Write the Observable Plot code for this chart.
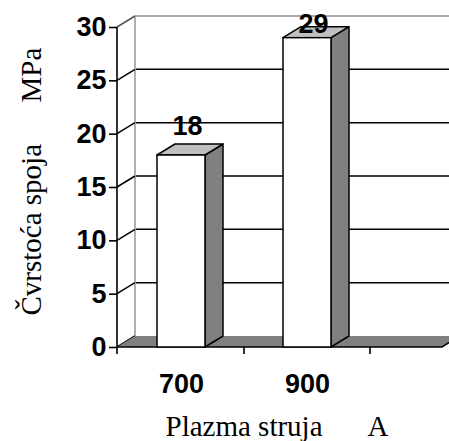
<!DOCTYPE html>
<html>
<head>
<meta charset="utf-8">
<script src="https://cdn.jsdelivr.net/npm/d3@7"></script>
<script src="https://cdn.jsdelivr.net/npm/@observablehq/plot@0.6"></script>
<style>
  html, body { margin: 0; padding: 0; background: #fff; }
</style>
</head>
<body>
<div id="chart"></div>
<script>
// ---- data ----
const categories = ["700", "900"];
const values = [18, 29];
const yTicks = [0, 5, 10, 15, 20, 25, 30];
const xTitle = "Plazma struja";
const xUnit = "A";
const yTitle = "Čvrstoća spoja";
const yUnit = "MPa";

const data = categories.map((c, i) => ({category: c, value: values[i]}));

// ---- style / layout constants ----
const DX = 18, DY = -11;          // 3D depth offset (px)
const BAR_INSET = 39;             // px inset of bars inside their band
const X_RANGE = [117, 370];
const LABEL_GAP = 1.9, LABEL_MAX = 29.5;
const SANS = "'Liberation Sans', Arial, Helvetica, sans-serif";
const SERIF = "'Liberation Serif', 'Times New Roman', Times, serif";
const yMax = d3.max(yTicks);

function bandwidthOf(s) { return typeof s.bandwidth === "function" ? s.bandwidth() : s.bandwidth; }
function poly(pts) { return "M" + pts.map(p => p.join(",")).join("L") + "Z"; }

// back wall, left wall and floor
function wallsMark(index, scales, values, dim) {
  const {y} = scales;
  const x0 = dim.marginLeft, x1 = dim.width - dim.marginRight;
  const y0 = y(0), yTop = y(yMax);
  const g = d3.create("svg:g");
  for (const t of yTicks) {
    if (t === 0) continue;
    g.append("line")
      .attr("x1", x0 + DX).attr("x2", x1 + DX + 30)
      .attr("y1", y(t) + DY).attr("y2", y(t) + DY)
      .attr("stroke", t === yMax ? "#a8a8a8" : "#000")
      .attr("stroke-width", t === yMax ? 2 : 1.5);
  }
  g.append("line")
    .attr("x1", x0 + DX).attr("x2", x0 + DX)
    .attr("y1", yTop + DY).attr("y2", y0 + DY)
    .attr("stroke", "#b0b0b0").attr("stroke-width", 2);
  for (const t of yTicks) {
    g.append("line")
      .attr("x1", x0).attr("x2", x0 + DX)
      .attr("y1", y(t)).attr("y2", y(t) + DY)
      .attr("stroke", t === yMax ? "#555" : "#000")
      .attr("stroke-width", 1.5);
  }
  g.append("path")
    .attr("d", poly([[x0, y0], [x1, y0], [x1 + DX, y0 + DY], [x0 + DX, y0 + DY]]))
    .attr("fill", "#808080");
  g.append("path")
    .attr("d", `M${x0},${y0}L${x1},${y0}L${x1 + DX},${y0 + DY}`)
    .attr("fill", "none").attr("stroke", "#000").attr("stroke-width", 1.5);
  return g.node();
}

// side and top faces of the bars
function barDepthMark(index, scales) {
  const {x, y} = scales;
  const bw = bandwidthOf(x);
  const g = d3.create("svg:g")
    .attr("stroke", "#000").attr("stroke-width", 1.5).attr("stroke-linejoin", "round");
  for (const d of data) {
    const xa = x(d.category) + BAR_INSET, xb = x(d.category) + bw - BAR_INSET;
    const yv = y(d.value), y0 = y(0);
    g.append("path").attr("d", poly([[xb, y0], [xb, yv], [xb + DX, yv + DY], [xb + DX, y0 + DY]])).attr("fill", "#808080");
    g.append("path").attr("d", poly([[xa, yv], [xb, yv], [xb + DX, yv + DY], [xa + DX, yv + DY]])).attr("fill", "#c0c0c0");
  }
  return g.node();
}

// front value axis line and category boundary ticks
function axisLinesMark(index, scales, values, dim) {
  const {x, y} = scales;
  const bw = bandwidthOf(x);
  const x0 = dim.marginLeft, y0 = y(0), yTop = y(yMax);
  const g = d3.create("svg:g").attr("stroke", "#000").attr("stroke-width", 1.6);
  g.append("line").attr("x1", x0).attr("x2", x0).attr("y1", yTop).attr("y2", y0 + 7);
  for (const c of categories) {
    const xb = x(c) + bw;
    g.append("line").attr("x1", xb).attr("x2", xb).attr("y1", y0).attr("y2", y0 + 7);
  }
  return g.node();
}

const chart = Plot.plot({
  width: 449,
  height: 441,
  marginTop: 27,
  marginRight: 7,
  marginBottom: 94,
  marginLeft: 117,
  style: {background: "#fff", color: "#000", fontFamily: SANS},
  x: {type: "band", domain: categories, range: X_RANGE, padding: 0},
  y: {domain: d3.extent(yTicks)},
  marks: [
    wallsMark,
    barDepthMark,
    Plot.barY(data, {x: "category", y: "value", fill: "#fff", stroke: "#000", strokeWidth: 1.5,
      insetLeft: BAR_INSET, insetRight: BAR_INSET}),
    axisLinesMark,
    Plot.axisY({ticks: yTicks, tickSize: 8, tickPadding: 3, strokeWidth: 1.6, label: null,
      fontSize: 27, fontWeight: "bold", fontFamily: SANS}),
    Plot.axisX({tickSize: 0, tickPadding: 26, label: null,
      fontSize: 27, fontWeight: "bold", fontFamily: SANS}),
    Plot.text(data, {x: "category", y: d => Math.min(d.value + LABEL_GAP, LABEL_MAX),
      text: d => String(d.value), dx: 6, lineAnchor: "bottom",
      fontSize: 27, fontWeight: "bold", fontFamily: SANS}),
    Plot.text([xTitle], {frameAnchor: "bottom-left", text: d => d, dx: 48, dy: 88,
      textAnchor: "start", lineAnchor: "bottom", fontSize: 29, fontFamily: SERIF}),
    Plot.text([xUnit], {frameAnchor: "bottom-left", text: d => d, dx: 250, dy: 88,
      textAnchor: "start", lineAnchor: "bottom", fontSize: 29, fontFamily: SERIF}),
    Plot.text([yTitle], {frameAnchor: "top-left", text: d => d, dx: -77, dy: 288, rotate: -90,
      textAnchor: "start", lineAnchor: "bottom", fontSize: 29, fontFamily: SERIF}),
    Plot.text([yUnit], {frameAnchor: "top-left", text: d => d, dx: -77, dy: 75, rotate: -90,
      textAnchor: "start", lineAnchor: "bottom", fontSize: 29, fontFamily: SERIF})
  ]
});
document.getElementById("chart").appendChild(chart);
</script>
</body>
</html>
